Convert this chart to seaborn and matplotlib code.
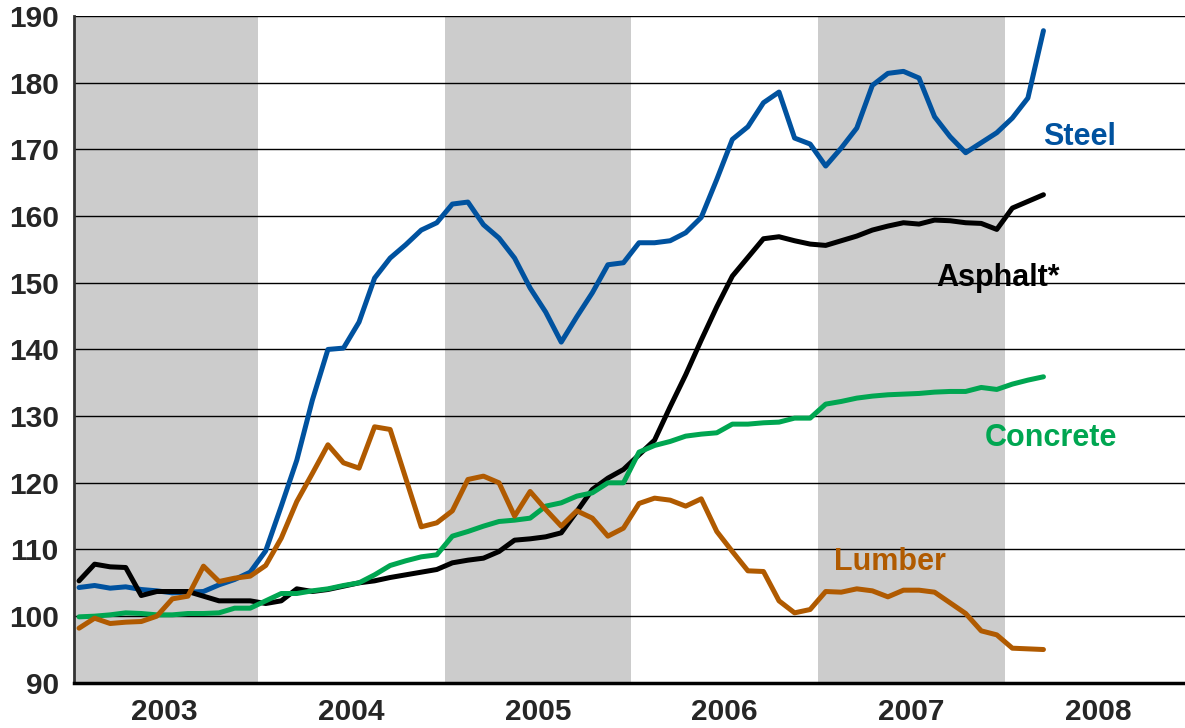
import pandas as pd
import matplotlib.pyplot as plt
import seaborn as sns

# -----------------------------
# Data: monthly price index, Jan 2003 = month 0 ... Mar 2008 = month 62
# -----------------------------
steel = [104.3, 104.6, 104.2, 104.4, 104.0, 103.8, 103.5, 103.6, 103.7, 104.7,
         105.5, 106.6, 109.8, 116.5, 123.4, 132.4, 140.0, 140.2, 144.1, 150.7,
         153.7, 155.7, 157.9, 159.0, 161.8, 162.1, 158.7, 156.7, 153.7, 149.2,
         145.6, 141.1, 144.9, 148.5, 152.7, 153.0, 156.0, 156.0, 156.3, 157.5,
         159.8, 165.5, 171.5, 173.4, 177.0, 178.6, 171.7, 170.8, 167.5, 170.2,
         173.2, 179.6, 181.4, 181.7, 180.7, 174.9, 171.9, 169.5, 171.0, 172.5,
         174.7, 177.7, 187.8]
asphalt = [105.3, 107.8, 107.4, 107.3, 103.1, 103.7, 103.7, 103.7, 103.0, 102.3,
           102.3, 102.3, 101.9, 102.3, 104.1, 103.7, 104.0, 104.5, 105.0, 105.3,
           105.8, 106.2, 106.6, 107.0, 108.0, 108.4, 108.7, 109.7, 111.4, 111.6,
           111.9, 112.5, 115.7, 119.0, 120.7, 122.0, 124.2, 126.4, 131.4, 136.2,
           141.4, 146.4, 151.0, 153.8, 156.6, 156.9, 156.3, 155.8, 155.6, 156.3,
           157.0, 157.9, 158.5, 159.0, 158.8, 159.4, 159.3, 159.0, 158.9, 158.0,
           161.2, 162.2, 163.2]
concrete = [99.9, 100.0, 100.2, 100.5, 100.4, 100.2, 100.2, 100.4, 100.4, 100.5,
            101.2, 101.2, 102.3, 103.4, 103.4, 103.8, 104.1, 104.6, 105.0, 106.2,
            107.6, 108.3, 108.9, 109.2, 112.0, 112.7, 113.5, 114.2, 114.4, 114.7,
            116.5, 117.0, 118.0, 118.5, 120.0, 120.0, 124.6, 125.6, 126.2, 127.0,
            127.3, 127.5, 128.8, 128.8, 129.0, 129.1, 129.7, 129.7, 131.8, 132.2,
            132.7, 133.0, 133.2, 133.3, 133.4, 133.6, 133.7, 133.7, 134.3, 134.0,
            134.8, 135.4, 135.9]
lumber = [98.2, 99.7, 98.9, 99.1, 99.2, 100.0, 102.6, 103.0, 107.5, 105.2,
          105.7, 106.0, 107.6, 111.7, 117.2, 121.4, 125.7, 123.0, 122.2, 128.4,
          128.0, 120.7, 113.4, 114.0, 115.8, 120.5, 121.0, 120.0, 115.0, 118.7,
          116.0, 113.5, 115.8, 114.7, 112.0, 113.2, 116.9, 117.7, 117.4, 116.5,
          117.6, 112.7, 109.7, 106.8, 106.7, 102.3, 100.5, 101.0, 103.7, 103.6,
          104.1, 103.8, 102.9, 103.9, 103.9, 103.6, 102.0, 100.4, 97.8, 97.2,
          95.2, 95.1, 95.0]
years = [2003, 2004, 2005, 2006, 2007, 2008]
shaded_years = [2003, 2005, 2007]

colors = {"Steel": "#00529F", "Asphalt*": "#000000",
          "Concrete": "#00A651", "Lumber": "#B05A00"}

months = list(range(len(steel)))
df = pd.concat([
    pd.DataFrame({"month": months, "value": steel, "material": "Steel"}),
    pd.DataFrame({"month": months, "value": asphalt, "material": "Asphalt*"}),
    pd.DataFrame({"month": months, "value": concrete, "material": "Concrete"}),
    pd.DataFrame({"month": months, "value": lumber, "material": "Lumber"}),
])

# -----------------------------
# Plot
# -----------------------------
sns.set_style("white")
plt.rcParams["font.family"] = ["Liberation Sans", "DejaVu Sans"]
plt.rcParams["font.weight"] = "bold"

fig = plt.figure(figsize=(11.85, 7.28), dpi=100)
ax = fig.add_axes([0.0625, 0.062, 0.9375, 0.916])

# shaded years (bands centred on the monthly points)
for y in shaded_years:
    k = y - years[0]
    ax.axvspan(12 * k - 0.5, 12 * k + 11.5, color="#CCCCCC", lw=0, zorder=0)

sns.lineplot(data=df, x="month", y="value", hue="material", palette=colors,
             linewidth=3.6, legend=False, ax=ax, zorder=3)

ax.set_xlim(-0.32, 71.1)
ax.set_ylim(90, 190)
ax.set_yticks(range(90, 191, 10))
ax.set_xticks([12 * (y - years[0]) + 5.5 for y in years])
ax.set_xticklabels([str(y) for y in years])
ax.tick_params(axis="both", length=0, labelsize=21.5)
ax.tick_params(axis="y", pad=11)
ax.tick_params(axis="x", pad=11)
for lab in ax.get_xticklabels() + ax.get_yticklabels():
    lab.set_fontweight("bold")
ax.set_xlabel("")
ax.set_ylabel("")

ax.set_axisbelow(True)
ax.grid(axis="y", color="#000000", linewidth=1.0)
ax.grid(axis="x", visible=False)
ax.spines["top"].set_visible(False)
ax.spines["right"].set_visible(False)
ax.spines["left"].set_color("#333333")
ax.spines["left"].set_linewidth(2)
ax.spines["bottom"].set_color("#000000")
ax.spines["bottom"].set_linewidth(2.5)

# series labels
ax.text(64.3, 171.9, "Steel", color=colors["Steel"], fontsize=22,
        fontweight="bold", ha="center", va="center")
ax.text(59.1, 150.7, "Asphalt*", color=colors["Asphalt*"], fontsize=22,
        fontweight="bold", ha="center", va="center")
ax.text(62.5, 126.7, "Concrete", color=colors["Concrete"], fontsize=22,
        fontweight="bold", ha="center", va="center")
ax.text(52.1, 108.1, "Lumber", color=colors["Lumber"], fontsize=22,
        fontweight="bold", ha="center", va="center")

plt.savefig("out.png", dpi=100)
plt.close()
